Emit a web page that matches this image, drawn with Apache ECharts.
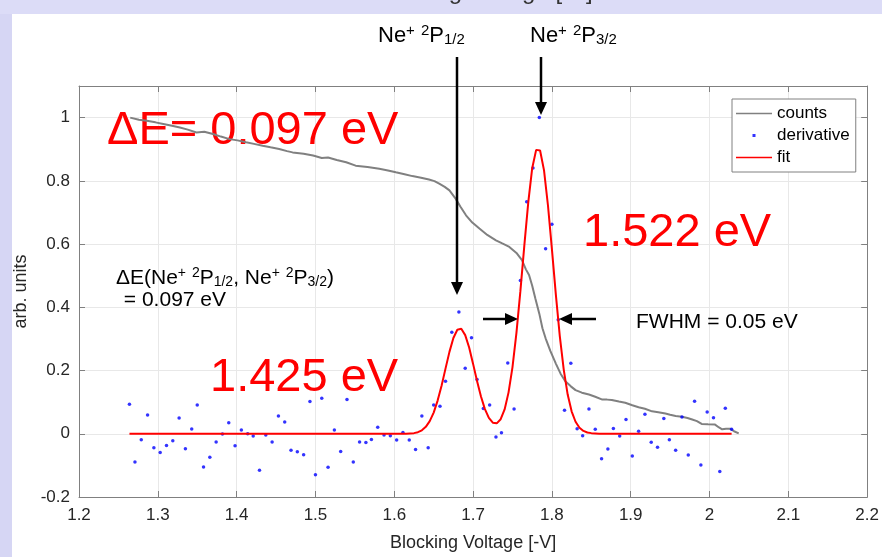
<!DOCTYPE html>
<html>
<head>
<meta charset="utf-8">
<title>Ne+ derivative spectrum</title>
<script src="https://cdn.jsdelivr.net/npm/echarts@6/dist/echarts.min.js"></script>
<style>
  html, body { margin: 0; padding: 0; background: #fff; }
  #main { width: 882px; height: 557px; }
</style>
</head>
<body>
<div id="main"></div>
<script>
var FONT = '"Liberation Sans", Arial, Helvetica, sans-serif';

// gray integrated counts curve
var countsX = [1.265, 1.276, 1.286, 1.297, 1.307, 1.318, 1.328, 1.338, 1.349, 1.359,
    1.370, 1.380, 1.391, 1.401, 1.412, 1.422, 1.433, 1.443, 1.454, 1.464,
    1.471, 1.485, 1.497, 1.508, 1.516, 1.527, 1.539, 1.551, 1.566, 1.581,
    1.592, 1.602, 1.613, 1.623, 1.634, 1.644, 1.651, 1.657, 1.664, 1.670,
    1.678, 1.684, 1.691, 1.699, 1.708, 1.718, 1.729, 1.737, 1.746, 1.755,
    1.762, 1.767, 1.771, 1.775, 1.779, 1.784, 1.788, 1.792, 1.798, 1.805,
    1.811, 1.817, 1.824, 1.830, 1.838, 1.847, 1.855, 1.864, 1.870, 1.876,
    1.885, 1.893, 1.902, 1.910, 1.918, 1.927, 1.935, 1.944, 1.950, 1.957,
    1.965, 1.972, 1.978, 1.984, 1.990, 1.998, 2.007, 2.012, 2.016, 2.021,
    2.026, 2.031, 2.037];
var countsY = [1.000, 0.993, 0.990, 0.985, 0.980, 0.974, 0.969, 0.962, 0.953, 0.955,
    0.948, 0.940, 0.932, 0.928, 0.922, 0.917, 0.911, 0.906, 0.901, 0.894,
    0.890, 0.886, 0.880, 0.872, 0.874, 0.866, 0.859, 0.848, 0.844, 0.838,
    0.833, 0.827, 0.821, 0.815, 0.810, 0.804, 0.799, 0.791, 0.781, 0.770,
    0.743, 0.718, 0.691, 0.668, 0.649, 0.629, 0.612, 0.602, 0.591, 0.572,
    0.549, 0.520, 0.502, 0.468, 0.428, 0.380, 0.334, 0.302, 0.262, 0.222,
    0.190, 0.166, 0.150, 0.138, 0.130, 0.124, 0.117, 0.108, 0.108, 0.107,
    0.102, 0.098, 0.090, 0.084, 0.079, 0.071, 0.068, 0.064, 0.060, 0.056,
    0.054, 0.050, 0.045, 0.040, 0.031, 0.030, 0.029, 0.020, 0.014, 0.016,
    0.016, 0.008, 0.001];

// blue derivative points
var derivX = [1.264, 1.271, 1.279, 1.287, 1.295, 1.303, 1.311, 1.319, 1.327, 1.335,
    1.343, 1.350, 1.358, 1.366, 1.374, 1.382, 1.390, 1.398, 1.406, 1.414,
    1.421, 1.429, 1.437, 1.445, 1.453, 1.461, 1.469, 1.477, 1.485, 1.493,
    1.500, 1.508, 1.516, 1.524, 1.532, 1.540, 1.548, 1.556, 1.564, 1.571,
    1.579, 1.587, 1.595, 1.603, 1.611, 1.619, 1.627, 1.635, 1.643, 1.650,
    1.658, 1.665, 1.673, 1.682, 1.690, 1.698, 1.705, 1.713, 1.721, 1.729,
    1.736, 1.744, 1.752, 1.760, 1.768, 1.776, 1.784, 1.792, 1.800, 1.808,
    1.816, 1.824, 1.832, 1.839, 1.847, 1.855, 1.863, 1.871, 1.878, 1.886,
    1.894, 1.902, 1.910, 1.918, 1.926, 1.934, 1.942, 1.949, 1.957, 1.965,
    1.973, 1.981, 1.989, 1.997, 2.005, 2.013, 2.020, 2.028];
var derivY = [0.093, -0.089, -0.019, 0.059, -0.044, -0.059, -0.037, -0.022, 0.050, -0.047,
    0.015, 0.091, -0.105, -0.074, -0.026, -0.001, 0.035, -0.038, 0.012, 0.000,
    -0.007, -0.115, -0.004, -0.026, 0.056, 0.037, -0.052, -0.057, -0.066, 0.102,
    -0.130, 0.112, -0.106, 0.012, -0.056, 0.108, -0.089, -0.026, -0.028, -0.018,
    0.021, -0.004, -0.006, -0.020, 0.004, -0.020, -0.050, 0.056, -0.044, 0.091,
    0.087, 0.166, 0.321, 0.385, 0.207, 0.304, 0.172, 0.080, 0.091, -0.010,
    0.003, 0.224, 0.078, 0.485, 0.734, 0.841, 1.000, 0.585, 0.663, 0.361,
    0.074, 0.223, 0.016, -0.006, 0.078, 0.014, -0.079, -0.048, 0.017, -0.007,
    0.045, -0.070, 0.008, 0.062, -0.027, -0.043, 0.048, -0.019, -0.052, 0.053,
    -0.067, 0.103, -0.099, 0.069, 0.051, -0.119, 0.081, 0.014];

// red fit curve (two peaks)
var fitX = [1.264, 1.610, 1.615, 1.620, 1.625, 1.630, 1.635, 1.640, 1.645, 1.650,
    1.655, 1.660, 1.665, 1.670, 1.675, 1.680, 1.685, 1.690, 1.695, 1.700,
    1.705, 1.710, 1.715, 1.720, 1.725, 1.730, 1.735, 1.740, 1.745, 1.750,
    1.755, 1.760, 1.765, 1.770, 1.775, 1.780, 1.785, 1.790, 1.795, 1.800,
    1.805, 1.810, 1.815, 1.820, 1.825, 1.830, 1.835, 1.840, 1.845, 1.850,
    1.855, 1.860, 2.028];
var fitY = [0, 0, 0.000, 0.001, 0.002, 0.005, 0.011, 0.022, 0.040, 0.067,
    0.105, 0.152, 0.206, 0.259, 0.303, 0.329, 0.332, 0.312, 0.273, 0.221,
    0.167, 0.118, 0.078, 0.050, 0.035, 0.033, 0.046, 0.077, 0.131, 0.211,
    0.319, 0.451, 0.595, 0.732, 0.840, 0.898, 0.896, 0.833, 0.722, 0.584,
    0.440, 0.309, 0.203, 0.124, 0.071, 0.038, 0.019, 0.009, 0.004, 0.002,
    0.001, 0.000, 0];

var legendNames = ['counts', 'derivative', 'fit'];

function zip(xs, ys) {
    var out = [];
    for (var i = 0; i < xs.length; i++) {
        out.push([xs[i], ys[i]]);
    }
    return out;
}

// rich styles for superscripts / subscripts
function richStyles(size, small, color) {
    return {
        n: { fontSize: size, fontFamily: FONT, fill: color },
        sp: { fontSize: small, fontFamily: FONT, fill: color, padding: [0, 0, Math.round(small * 0.7), 0] },
        sb: { fontSize: small, fontFamily: FONT, fill: color, padding: [Math.round(small * 0.55), 0, 0, 0] }
    };
}

function level(j) {
    return '{n|Ne}{sp|+} {sp|2}{n|P}{sb|' + j + '}';
}

function label(x, y, text, size, color, z) {
    return {
        type: 'text', x: x, y: y, z: z || 10,
        style: {
            text: text, fontSize: size, fontFamily: FONT, fill: color,
            align: 'left', verticalAlign: 'middle',
            rich: richStyles(size, Math.round(size * 0.68), color)
        }
    };
}

function arrow(x1, y1, x2, y2) {
    // head points along (x1,y1) -> (x2,y2)
    var dx = x2 - x1, dy = y2 - y1;
    var len = Math.sqrt(dx * dx + dy * dy);
    var ux = dx / len, uy = dy / len;
    var hl = 13, hw = 6;
    var bx = x2 - ux * hl, by = y2 - uy * hl;
    return [
        { type: 'line', z: 10, shape: { x1: x1, y1: y1, x2: bx + ux * 2, y2: by + uy * 2 },
          style: { stroke: '#000', lineWidth: 2.5 } },
        { type: 'polygon', z: 10,
          shape: { points: [[x2, y2], [bx - uy * hw, by + ux * hw], [bx + uy * hw, by - ux * hw]] },
          style: { fill: '#000' } }
    ];
}

var myChart = echarts.init(document.getElementById('main'));

var axisGray = '#808080';
var textGray = '#262626';

// legend icons: bbox forced to 36x14 by the two leading moveTo's
var lineIcon = 'path://M0,0M36,14M0,6.2L36,6.2L36,7.8L0,7.8Z';
var dotIcon = 'path://M0,0M36,14M16.5,5.5L19.5,5.5L19.5,8.5L16.5,8.5Z';

var graphics = [
    { type: 'rect', z: 0, shape: { x: 0, y: 0, width: 12, height: 557 }, style: { fill: '#d6d6f4' } },
    { type: 'rect', z: 0, shape: { x: 0, y: 0, width: 882, height: 14 }, style: { fill: '#dcdcf7' } },
    { type: 'text', z: 1, x: 482, y: 4,
      style: { text: 'Blocking Voltage [-V]', fontSize: 24, fontFamily: FONT, fill: '#333',
               align: 'center', verticalAlign: 'bottom' } },
    label(378, 36, level('1/2'), 22, '#000'),
    label(530, 36, level('3/2'), 22, '#000'),
    label(107, 131, '{n|ΔE= 0.097 eV}', 47, '#ff0000', 1),
    label(583, 233, '{n|1.522 eV}', 47, '#ff0000', 1),
    label(210, 378, '{n|1.425 eV}', 47, '#ff0000', 1),
    label(116, 278, '{n|ΔE(}' + level('1/2') + '{n|, }' + level('3/2') + '{n|)}', 21, '#000'),
    label(118, 300, '{n| = 0.097 eV}', 21, '#000'),
    label(636, 322, '{n|FWHM = 0.05 eV}', 21, '#000')
];
graphics = graphics
    .concat(arrow(457, 57, 457, 295))
    .concat(arrow(541, 57, 541, 115))
    .concat(arrow(483, 319, 518, 319))
    .concat(arrow(596, 319, 559, 319));

var option = {
    animation: false,
    backgroundColor: '#fff',
    textStyle: { fontFamily: FONT },
    grid: { left: 79, right: 13, top: 86, bottom: 57, containLabel: false },
    legend: {
        left: 732, top: 99,
        orient: 'vertical',
        data: [
            { name: legendNames[0], icon: lineIcon },
            { name: legendNames[1], icon: dotIcon },
            { name: legendNames[2], icon: lineIcon }
        ],
        itemWidth: 36, itemHeight: 14, itemGap: 5,
        padding: [6, 6, 6, 4],
        borderColor: axisGray, borderWidth: 1,
        backgroundColor: '#fff',
        selectedMode: false,
        textStyle: { fontSize: 17, color: '#000', fontFamily: FONT }
    },
    xAxis: [{
        type: 'value', min: 1.2, max: 2.2, interval: 0.1, position: 'bottom',
        name: 'Blocking Voltage [-V]', nameLocation: 'middle', nameGap: 37,
        nameTextStyle: { fontSize: 18, color: textGray, fontFamily: FONT },
        axisLine: { show: true, onZero: false, lineStyle: { color: axisGray } },
        axisTick: { show: true, inside: true, length: 6, lineStyle: { color: axisGray } },
        axisLabel: { fontSize: 17, color: textGray, margin: 10, fontFamily: FONT },
        splitLine: { show: true, lineStyle: { color: '#e8e8e8' } }
    }, {
        type: 'value', min: 1.2, max: 2.2, interval: 0.1, position: 'top',
        axisLine: { show: true, onZero: false, lineStyle: { color: axisGray } },
        axisTick: { show: true, inside: true, length: 6, lineStyle: { color: axisGray } },
        axisLabel: { show: false },
        splitLine: { show: false }
    }],
    yAxis: [{
        type: 'value', min: -0.2, max: 1.1, interval: 0.2, position: 'left',
        name: 'arb. units', nameLocation: 'middle', nameGap: 47,
        nameTextStyle: { fontSize: 18, color: textGray, fontFamily: FONT },
        axisLine: { show: true, onZero: false, lineStyle: { color: axisGray } },
        axisTick: { show: true, inside: true, length: 6, lineStyle: { color: axisGray } },
        axisLabel: { fontSize: 17, color: textGray, margin: 9, showMaxLabel: false, fontFamily: FONT },
        splitLine: { show: true, lineStyle: { color: '#e8e8e8' } }
    }, {
        type: 'value', min: -0.2, max: 1.1, interval: 0.2, position: 'right',
        axisLine: { show: true, onZero: false, lineStyle: { color: axisGray } },
        axisTick: { show: true, inside: true, length: 6, lineStyle: { color: axisGray } },
        axisLabel: { show: false },
        splitLine: { show: false }
    }],
    series: [{
        name: legendNames[0], type: 'line', z: 2,
        data: zip(countsX, countsY),
        symbol: 'none',
        itemStyle: { color: '#808080' },
        lineStyle: { color: '#808080', width: 2 }
    }, {
        name: legendNames[1], type: 'scatter', z: 3,
        data: zip(derivX, derivY),
        symbol: 'circle', symbolSize: 3.5,
        itemStyle: { color: '#0000ff' }
    }, {
        name: legendNames[2], type: 'line', z: 4,
        data: zip(fitX, fitY),
        symbol: 'none',
        itemStyle: { color: '#ff0000' },
        lineStyle: { color: '#ff0000', width: 2 }
    }],
    graphic: { elements: graphics }
};

myChart.setOption(option);
</script>
</body>
</html>
